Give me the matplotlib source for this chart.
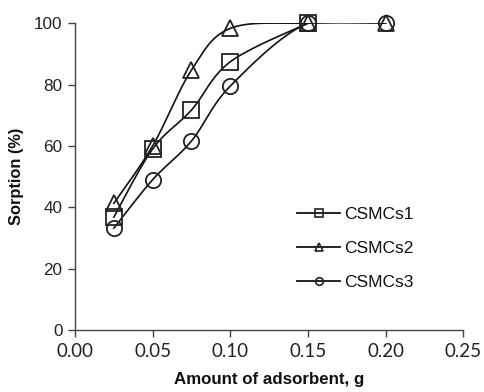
import numpy as np
import matplotlib
matplotlib.use("Agg")
import matplotlib.pyplot as plt
from matplotlib.lines import Line2D

plt.rcParams['font.family'] = ['Liberation Sans', 'DejaVu Sans']

amount1 = [0.025, 0.05, 0.075, 0.10, 0.15]
amount = [0.025, 0.05, 0.075, 0.10, 0.15, 0.20]
csmcs1 = [36.8, 59.0, 71.7, 87.4, 100]
csmcs2 = [41.3, 60.0, 84.7, 98.3, 100, 100]
csmcs3 = [33.2, 49.0, 61.6, 79.5, 100, 100]
series_names = ['CSMCs1', 'CSMCs2', 'CSMCs3']
markers = ['s', '^', 'o']
xticks = [0.00, 0.05, 0.10, 0.15, 0.20, 0.25]
yticks = [0, 20, 40, 60, 80, 100]


def smooth(x, y, n=30):
    x = np.asarray(x, float); y = np.asarray(y, float)
    px = np.concatenate([[x[0]], x, [x[-1]]])
    py = np.concatenate([[y[0]], y, [y[-1]]])
    xs, ys = [], []
    for i in range(1, len(px) - 2):
        p0 = np.array([px[i-1], py[i-1]]); p1 = np.array([px[i], py[i]])
        p2 = np.array([px[i+1], py[i+1]]); p3 = np.array([px[i+2], py[i+2]])
        c1 = p1 + (p2 - p0) / 6.0
        c2 = p2 - (p3 - p1) / 6.0
        t = np.linspace(0, 1, n)[:, None]
        pts = (1-t)**3*p1 + 3*(1-t)**2*t*c1 + 3*(1-t)*t**2*c2 + t**3*p2
        xs.append(pts[:, 0]); ys.append(pts[:, 1])
    return np.concatenate(xs), np.concatenate(ys)


fig = plt.figure(figsize=(4.84, 3.92), dpi=100)
ax = fig.add_axes([0.155, 0.158, 0.802, 0.783])

handles = []
for xs_, vals, name, m in zip([amount1, amount, amount], [csmcs1, csmcs2, csmcs3],
                              series_names, markers):
    sx, sy = smooth(xs_, vals)
    ax.plot(sx, sy, color='#111111', lw=1.2, zorder=2)
    ax.plot(xs_, vals, linestyle='none', marker=m, markersize=11,
            markerfacecolor='none', markeredgecolor='#222222', markeredgewidth=1.3,
            zorder=3, clip_on=False)
    handles.append(Line2D([], [], color='#111111', lw=1.3, marker=m, markersize=5.5,
                          markerfacecolor='none', markeredgecolor='#222222',
                          markeredgewidth=1.2, label=name))

ax.set_xlim(0, 0.25)
ax.set_ylim(0, 100)
ax.set_xticks(xticks)
ax.set_xticklabels([f'{v:.2f}' for v in xticks], fontfamily='Lato', fontsize=13.5)
ax.set_yticks(yticks)
ax.set_yticklabels([str(v) for v in yticks], fontsize=12.3)
for s in ['top', 'right']:
    ax.spines[s].set_visible(False)
for s in ['left', 'bottom']:
    ax.spines[s].set_linewidth(1.0)
    ax.spines[s].set_color('#444444')
ax.tick_params(direction='out', length=5, width=1.0, color='#444444', pad=4,
               labelcolor='#222222')
ax.set_xlabel('Amount of adsorbent, g', fontsize=12.2, fontweight='bold', labelpad=9,
              color='#111111')
ax.set_ylabel('Sorption (%)', fontsize=11.8, fontweight='bold', labelpad=7,
              color='#111111')

ax.legend(handles=handles, loc='upper left', bbox_to_anchor=(0.573, 0.402),
          frameon=False, fontsize=12.5, handlelength=2.45, handletextpad=0.25,
          labelspacing=1.1, borderaxespad=0, borderpad=0, labelcolor='#111111')

fig.savefig('out.png', dpi=100)
